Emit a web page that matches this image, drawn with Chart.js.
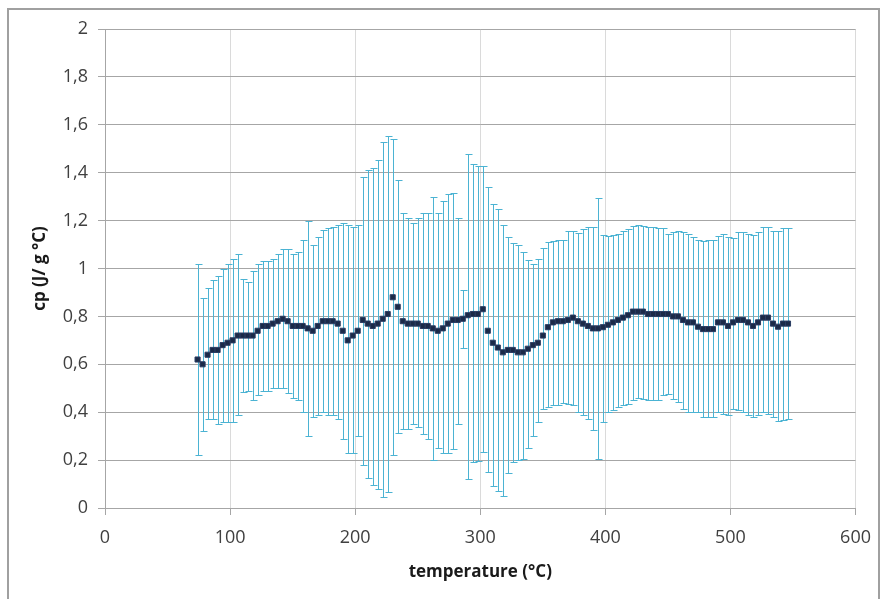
<!DOCTYPE html>
<html>
<head>
<meta charset="utf-8">
<script src="https://cdn.jsdelivr.net/npm/chart.js@4"></script>
<style>
  html, body { margin: 0; padding: 0; background: #fff; }
  #wrap { position: relative; width: 883px; height: 599px; overflow: hidden; }
  #frame { position: absolute; left: 7px; top: 8px; width: 873px; height: 620px; border: 2px solid #a0a0a0; box-sizing: border-box; pointer-events: none; }
</style>
</head>
<body>
<div id="wrap">
  <canvas id="chart" width="883" height="599"></canvas>
  <div id="frame"></div>
</div>
<script>
// temperature (°C)
const temps = [
  74, 78, 82, 86, 90, 94, 98, 102, 106, 110,
  114, 118, 122, 126, 130, 134, 138, 142, 146, 150,
  154, 158, 162, 166, 170, 174, 178, 182, 186, 190,
  194, 198, 202, 206, 210, 214, 218, 222, 226, 230,
  234, 238, 242, 246, 250, 254, 258, 262, 266, 270,
  274, 278, 282, 286, 290, 294, 298, 302, 306, 310,
  314, 318, 322, 326, 330, 334, 338, 342, 346, 350,
  354, 358, 362, 366, 370, 374, 378, 382, 386, 390,
  394, 398, 402, 406, 410, 414, 418, 422, 426, 430,
  434, 438, 442, 446, 450, 454, 458, 462, 466, 470,
  474, 478, 482, 486, 490, 494, 498, 502, 506, 510,
  514, 518, 522, 526, 530, 534, 538, 542, 546
];

// cp mean (J/ g °C)
const cp = [
  0.62, 0.60, 0.64, 0.66, 0.66, 0.68, 0.69, 0.70, 0.72, 0.72,
  0.72, 0.72, 0.74, 0.76, 0.76, 0.77, 0.78, 0.79, 0.78, 0.76,
  0.76, 0.76, 0.75, 0.74, 0.76, 0.78, 0.78, 0.78, 0.77, 0.74,
  0.70, 0.72, 0.74, 0.785, 0.77, 0.76, 0.77, 0.79, 0.81, 0.88,
  0.84, 0.78, 0.77, 0.77, 0.77, 0.76, 0.76, 0.75, 0.74, 0.75,
  0.77, 0.785, 0.785, 0.79, 0.805, 0.81, 0.81, 0.83, 0.74, 0.69,
  0.67, 0.65, 0.66, 0.66, 0.65, 0.65, 0.665, 0.68, 0.69, 0.72,
  0.755, 0.775, 0.78, 0.78, 0.785, 0.795, 0.78, 0.77, 0.76, 0.75,
  0.75, 0.755, 0.765, 0.775, 0.785, 0.795, 0.805, 0.82, 0.82, 0.82,
  0.81, 0.81, 0.81, 0.81, 0.81, 0.80, 0.80, 0.785, 0.775, 0.775,
  0.757, 0.747, 0.747, 0.747, 0.775, 0.775, 0.76, 0.775, 0.785, 0.785,
  0.775, 0.76, 0.775, 0.795, 0.795, 0.77, 0.757, 0.77, 0.77
];

// upper end of error bar
const cpHigh = [
  1.02, 0.875, 0.92, 0.95, 0.97, 1.00, 1.02, 1.04, 1.06, 0.955,
  0.945, 0.99, 1.02, 1.03, 1.03, 1.04, 1.06, 1.08, 1.08, 1.06,
  1.07, 1.12, 1.20, 1.10, 1.13, 1.16, 1.17, 1.175, 1.18, 1.19,
  1.18, 1.175, 1.18, 1.38, 1.41, 1.42, 1.455, 1.53, 1.555, 1.54,
  1.37, 1.23, 1.21, 1.19, 1.21, 1.23, 1.23, 1.30, 1.23, 1.28,
  1.31, 1.315, 1.21, 0.91, 1.48, 1.435, 1.43, 1.43, 1.34, 1.27,
  1.25, 1.18, 1.13, 1.105, 1.10, 1.07, 1.035, 1.02, 1.04, 1.085,
  1.11, 1.115, 1.12, 1.12, 1.155, 1.155, 1.15, 1.165, 1.175, 1.175,
  1.295, 1.14, 1.135, 1.14, 1.145, 1.155, 1.165, 1.178, 1.18, 1.178,
  1.172, 1.172, 1.168, 1.168, 1.143, 1.151, 1.158, 1.154, 1.143, 1.133,
  1.119, 1.116, 1.119, 1.119, 1.136, 1.144, 1.13, 1.126, 1.151, 1.154,
  1.144, 1.14, 1.151, 1.172, 1.172, 1.158, 1.157, 1.171, 1.171
];

// lower end of error bar
const cpLow = [
  0.22, 0.32, 0.37, 0.37, 0.35, 0.36, 0.36, 0.36, 0.39, 0.485,
  0.49, 0.45, 0.47, 0.49, 0.49, 0.50, 0.50, 0.50, 0.48, 0.46,
  0.45, 0.40, 0.30, 0.38, 0.39, 0.40, 0.39, 0.39, 0.37, 0.29,
  0.23, 0.23, 0.30, 0.18, 0.125, 0.095, 0.08, 0.045, 0.065, 0.22,
  0.315, 0.33, 0.33, 0.35, 0.34, 0.31, 0.29, 0.20, 0.25, 0.23,
  0.23, 0.245, 0.35, 0.67, 0.12, 0.19, 0.195, 0.235, 0.15, 0.09,
  0.07, 0.05, 0.145, 0.19, 0.20, 0.205, 0.25, 0.30, 0.36, 0.415,
  0.42, 0.43, 0.43, 0.44, 0.435, 0.43, 0.40, 0.39, 0.37, 0.325,
  0.205, 0.36, 0.40, 0.41, 0.42, 0.43, 0.435, 0.45, 0.46, 0.457,
  0.45, 0.45, 0.45, 0.471, 0.478, 0.457, 0.443, 0.415, 0.40, 0.40,
  0.40, 0.38, 0.38, 0.38, 0.40, 0.394, 0.39, 0.413, 0.408, 0.40,
  0.39, 0.38, 0.39, 0.40, 0.394, 0.38, 0.362, 0.367, 0.37
];

const yTicks = ['0', '0,2', '0,4', '0,6', '0,8', '1', '1,2', '1,4', '1,6', '1,8', '2'];

// draws the error bars (with caps) under the markers
const errorBars = {
  id: 'errorBars',
  beforeDatasetsDraw(chart) {
    const { ctx, scales: { x, y } } = chart;
    ctx.save();
    ctx.strokeStyle = '#4bb3d3';
    ctx.lineWidth = 1;
    temps.forEach((t, i) => {
      const px = Math.round(x.getPixelForValue(t)) + 0.5;
      const top = Math.round(y.getPixelForValue(cpHigh[i])) + 0.5;
      const bot = Math.round(y.getPixelForValue(cpLow[i])) + 0.5;
      ctx.beginPath();
      ctx.moveTo(px, top);
      ctx.lineTo(px, bot);
      ctx.moveTo(px - 3, top);
      ctx.lineTo(px + 4, top);
      ctx.moveTo(px - 3, bot);
      ctx.lineTo(px + 4, bot);
      ctx.stroke();
    });
    ctx.restore();
  }
};

new Chart(document.getElementById('chart'), {
  type: 'scatter',
  data: {
    datasets: [{
      label: 'cp',
      data: temps.map((t, i) => ({ x: t, y: cp[i] })),
      pointStyle: 'rect',
      pointRadius: 3.6,
      backgroundColor: '#1b2a48',
      borderColor: '#2a3d63',
      borderWidth: 1
    }]
  },
  options: {
    responsive: false,
    animation: false,
    layout: { padding: { left: 0, right: 24, top: 29, bottom: 0 } },
    plugins: {
      legend: { display: false },
      tooltip: { enabled: false }
    },
    scales: {
      x: {
        type: 'linear',
        min: 0,
        max: 600,
        afterFit: s => { s.height = 91; },
        ticks: {
          stepSize: 100,
          color: '#404040',
          font: { family: 'Open Sans', size: 18 },
          padding: 12
        },
        grid: { color: '#dadada', tickColor: '#a6a6a6', tickLength: 7 },
        border: { color: '#a6a6a6' },
        title: {
          display: true,
          text: 'temperature (°C)',
          color: '#1a1a1a',
          font: { family: 'Open Sans', size: 17, weight: 'bold' },
          padding: { top: 0, bottom: 17 }
        }
      },
      y: {
        min: 0,
        max: 2,
        afterFit: s => { s.width = 105; },
        ticks: {
          stepSize: 0.2,
          color: '#404040',
          font: { family: 'Open Sans', size: 18 },
          padding: 10,
          callback: (v, i) => yTicks[i]
        },
        grid: { color: '#a6a6a6', tickColor: '#a6a6a6', tickLength: 7 },
        border: { color: '#a6a6a6' },
        title: {
          display: true,
          text: 'cp (J/ g °C)',
          color: '#1a1a1a',
          font: { family: 'Open Sans', size: 17, weight: 'bold' },
          padding: { top: 30, bottom: 0 }
        }
      }
    }
  },
  plugins: [errorBars]
});
</script>
</body>
</html>
